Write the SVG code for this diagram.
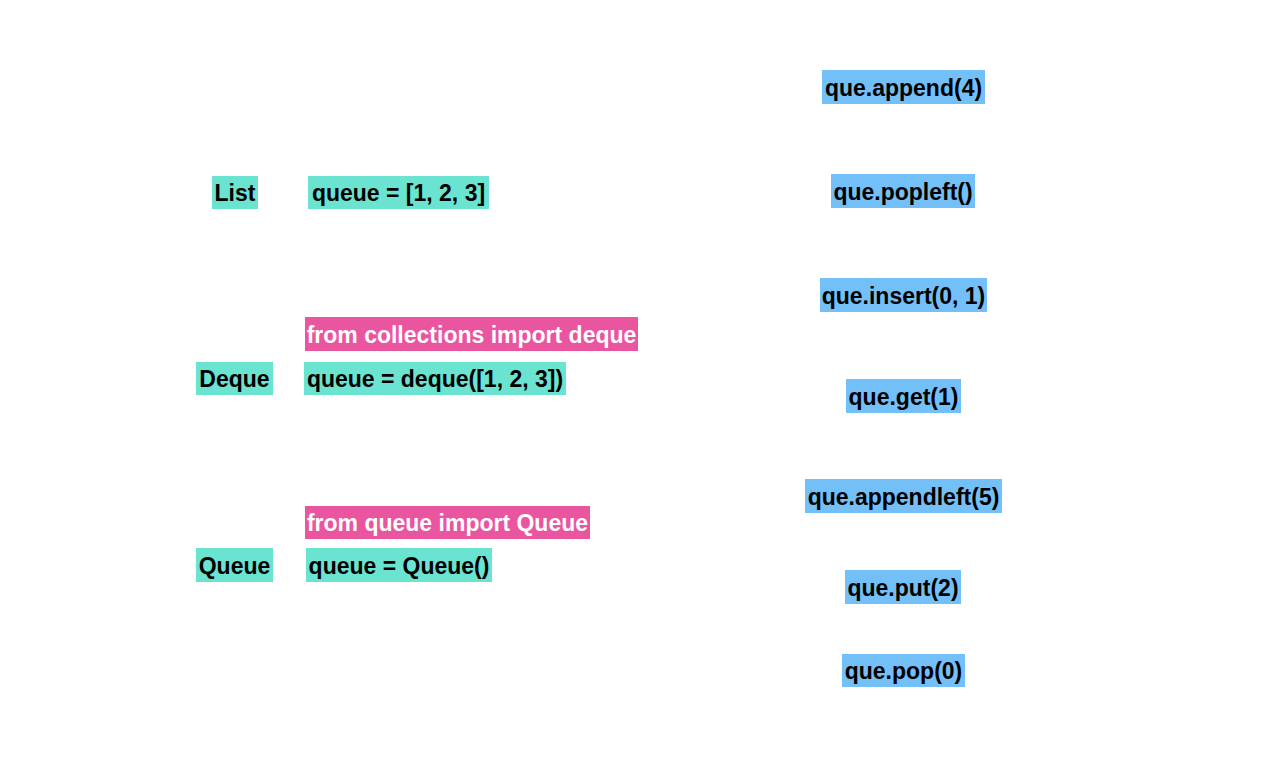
<svg xmlns="http://www.w3.org/2000/svg" width="1266" height="772" viewBox="0 0 1266 772">
<style>
text{font-family:"Liberation Sans",Arial,Helvetica,sans-serif;font-weight:bold;font-size:23px;text-anchor:middle}
.t{fill:#6AE3D0}
.p{fill:#E9559F}
.b{fill:#73BFF8}
.dk{fill:#000}
.wh{fill:#fff}
</style>
<rect width="1266" height="772" fill="#fff"/>
<g id="list"><rect class="t" x="212" y="176" width="46" height="33"/><text class="dk" x="235" y="201">List</text></g>
<g id="list-code"><rect class="t" x="308" y="176" width="181" height="33"/><text class="dk" x="398.5" y="201">queue = [1, 2, 3]</text></g>
<g id="deque-import"><rect class="p" x="305" y="317" width="333" height="34"/><text class="wh" x="471.5" y="342.5">from collections import deque</text></g>
<g id="deque"><rect class="t" x="196" y="362" width="77" height="33"/><text class="dk" x="234.5" y="387">Deque</text></g>
<g id="deque-code"><rect class="t" x="304" y="362" width="262" height="33"/><text class="dk" x="435" y="387">queue = deque([1, 2, 3])</text></g>
<g id="queue-import"><rect class="p" x="305" y="506" width="285" height="33"/><text class="wh" x="447.5" y="531">from queue import Queue</text></g>
<g id="queue"><rect class="t" x="196" y="548" width="77" height="34"/><text class="dk" x="234.5" y="573.5">Queue</text></g>
<g id="queue-code"><rect class="t" x="306" y="548" width="186" height="34"/><text class="dk" x="399" y="573.5">queue = Queue()</text></g>
<g id="append"><rect class="b" x="822" y="70" width="163" height="34"/><text class="dk" x="903.5" y="95.5">que.append(4)</text></g>
<g id="popleft"><rect class="b" x="831" y="174" width="144" height="34"/><text class="dk" x="903" y="199.5">que.popleft()</text></g>
<g id="insert"><rect class="b" x="820" y="278" width="167" height="34"/><text class="dk" x="903.5" y="303.5">que.insert(0, 1)</text></g>
<g id="get"><rect class="b" x="846" y="379" width="115" height="34"/><text class="dk" x="903.5" y="404.5">que.get(1)</text></g>
<g id="appendleft"><rect class="b" x="805" y="479" width="197" height="34"/><text class="dk" x="903.5" y="504.5">que.appendleft(5)</text></g>
<g id="put"><rect class="b" x="845" y="570" width="116" height="34"/><text class="dk" x="903" y="595.5">que.put(2)</text></g>
<g id="pop"><rect class="b" x="842" y="654" width="123" height="33"/><text class="dk" x="903.5" y="679">que.pop(0)</text></g>
<g id="connectors"></g>
</svg>
